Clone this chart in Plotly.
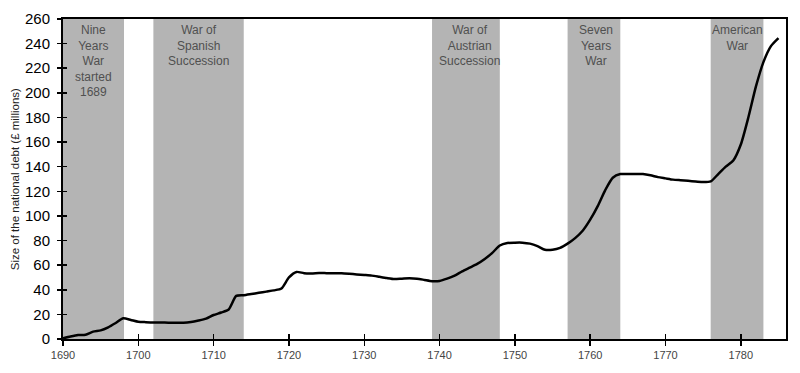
import plotly.graph_objects as go

years = list(range(1690, 1786))
debt = [0.5, 2, 3.2, 3.5, 6, 7, 9.5, 13, 16.8, 15.5,
        14, 13.7, 13.5, 13.5, 13.3, 13.3, 13.2, 13.8, 15, 16.5,
        19.5, 21.5, 24, 35, 35.5, 36.5, 37.5, 38.5, 39.5, 41,
        50, 54.5, 53.5, 53.3, 53.6, 53.5, 53.4, 53.4, 53, 52.5,
        52, 51.5, 50.5, 49.5, 48.7, 49, 49.3, 49, 48, 47,
        47.2, 49, 51.5, 55, 58, 61, 65, 70, 76, 78,
        78.3, 78.3, 77.5, 75.5, 72.5, 72.5, 74, 77.5, 82, 88,
        97, 108, 121, 131, 134, 134, 134, 134, 133, 131.5,
        130.5, 129.5, 129, 128.5, 128, 127.5, 128, 134, 140, 145,
        158, 180, 205, 225, 238, 244.5]

war_starts = [1690, 1702, 1739, 1757, 1776]
war_ends = [1698.1, 1714, 1748, 1764, 1783]
war_labels = ["Nine<br>Years<br>War<br>started<br>1689", "War of<br>Spanish<br>Succession",
              "War of<br>Austrian<br>Succession", "Seven<br>Years<br>War", "American<br>War"]
label_x = [1694, 1708, 1744, 1760.8, 1779.5]

x_ticks = list(range(1690, 1790, 10))
y_ticks = list(range(0, 280, 20))

fig = go.Figure()
fig.add_trace(go.Scatter(x=years, y=debt, mode="lines",
                         line=dict(color="black", width=2.5, shape="spline", smoothing=0.6),
                         showlegend=False, hoverinfo="skip"))
# invisible trace for inner ticks axes
fig.add_trace(go.Scatter(x=[years[0]], y=[debt[0]], xaxis="x2", yaxis="y2", mode="markers",
                         marker=dict(opacity=0), showlegend=False, hoverinfo="skip"))

for s, e in zip(war_starts, war_ends):
    fig.add_shape(type="rect", x0=s, x1=e, y0=0, y1=1, xref="x", yref="paper",
                  fillcolor="#b4b4b4", line=dict(width=0), layer="below")

for lx, lt in zip(label_x, war_labels):
    fig.add_annotation(x=lx, y=1, xref="x", yref="paper", yanchor="top", yshift=-2,
                       text=lt, showarrow=False,
                       font=dict(family="Liberation Sans, Arial", size=12, color="#505050"))

fig.add_annotation(x=-0.066, y=0.5, xref="paper", yref="paper", text="Size of the national debt (£ millions)",
                   textangle=-90, showarrow=False, xanchor="center", yanchor="middle",
                   font=dict(family="Liberation Sans, Arial", size=11.5, color="#222"))

fig.update_layout(
    template="none",
    width=800, height=373,
    margin=dict(l=63, r=14, t=19, b=34),
    paper_bgcolor="white", plot_bgcolor="white",
    font=dict(family="Liberation Sans, Arial", color="#444"),
    xaxis=dict(range=[1690, 1786], tickvals=x_ticks, ticks="outside", ticklen=5, tickwidth=1.5,
               tickcolor="black", showgrid=False, zeroline=False, showline=True, linecolor="black",
               linewidth=2, mirror=True, tickfont=dict(size=11, color="#444")),
    yaxis=dict(range=[0, 260], tickvals=y_ticks, ticks="outside", ticklen=4, tickwidth=1.5,
               tickcolor="black", showgrid=False, zeroline=False, showline=True, linecolor="black",
               linewidth=2, mirror=True, tickfont=dict(size=15, color="black"), ticklabelstandoff=4),
    xaxis2=dict(range=[1690, 1786], overlaying="x", anchor="y", tickvals=x_ticks, ticks="inside",
                ticklen=5, tickwidth=1.5, tickcolor="black", showticklabels=False, showgrid=False,
                zeroline=False, showline=False),
    yaxis2=dict(range=[0, 260], overlaying="y", anchor="x", side="left", tickvals=y_ticks,
                ticks="inside", ticklen=4, tickwidth=1.5, tickcolor="black", showticklabels=False,
                showgrid=False, zeroline=False, showline=False),
)

fig.write_html("out.html", config={"displayModeBar": False, "staticPlot": True},
               post_script="document.body.style.margin='0';document.body.style.padding='0';")
